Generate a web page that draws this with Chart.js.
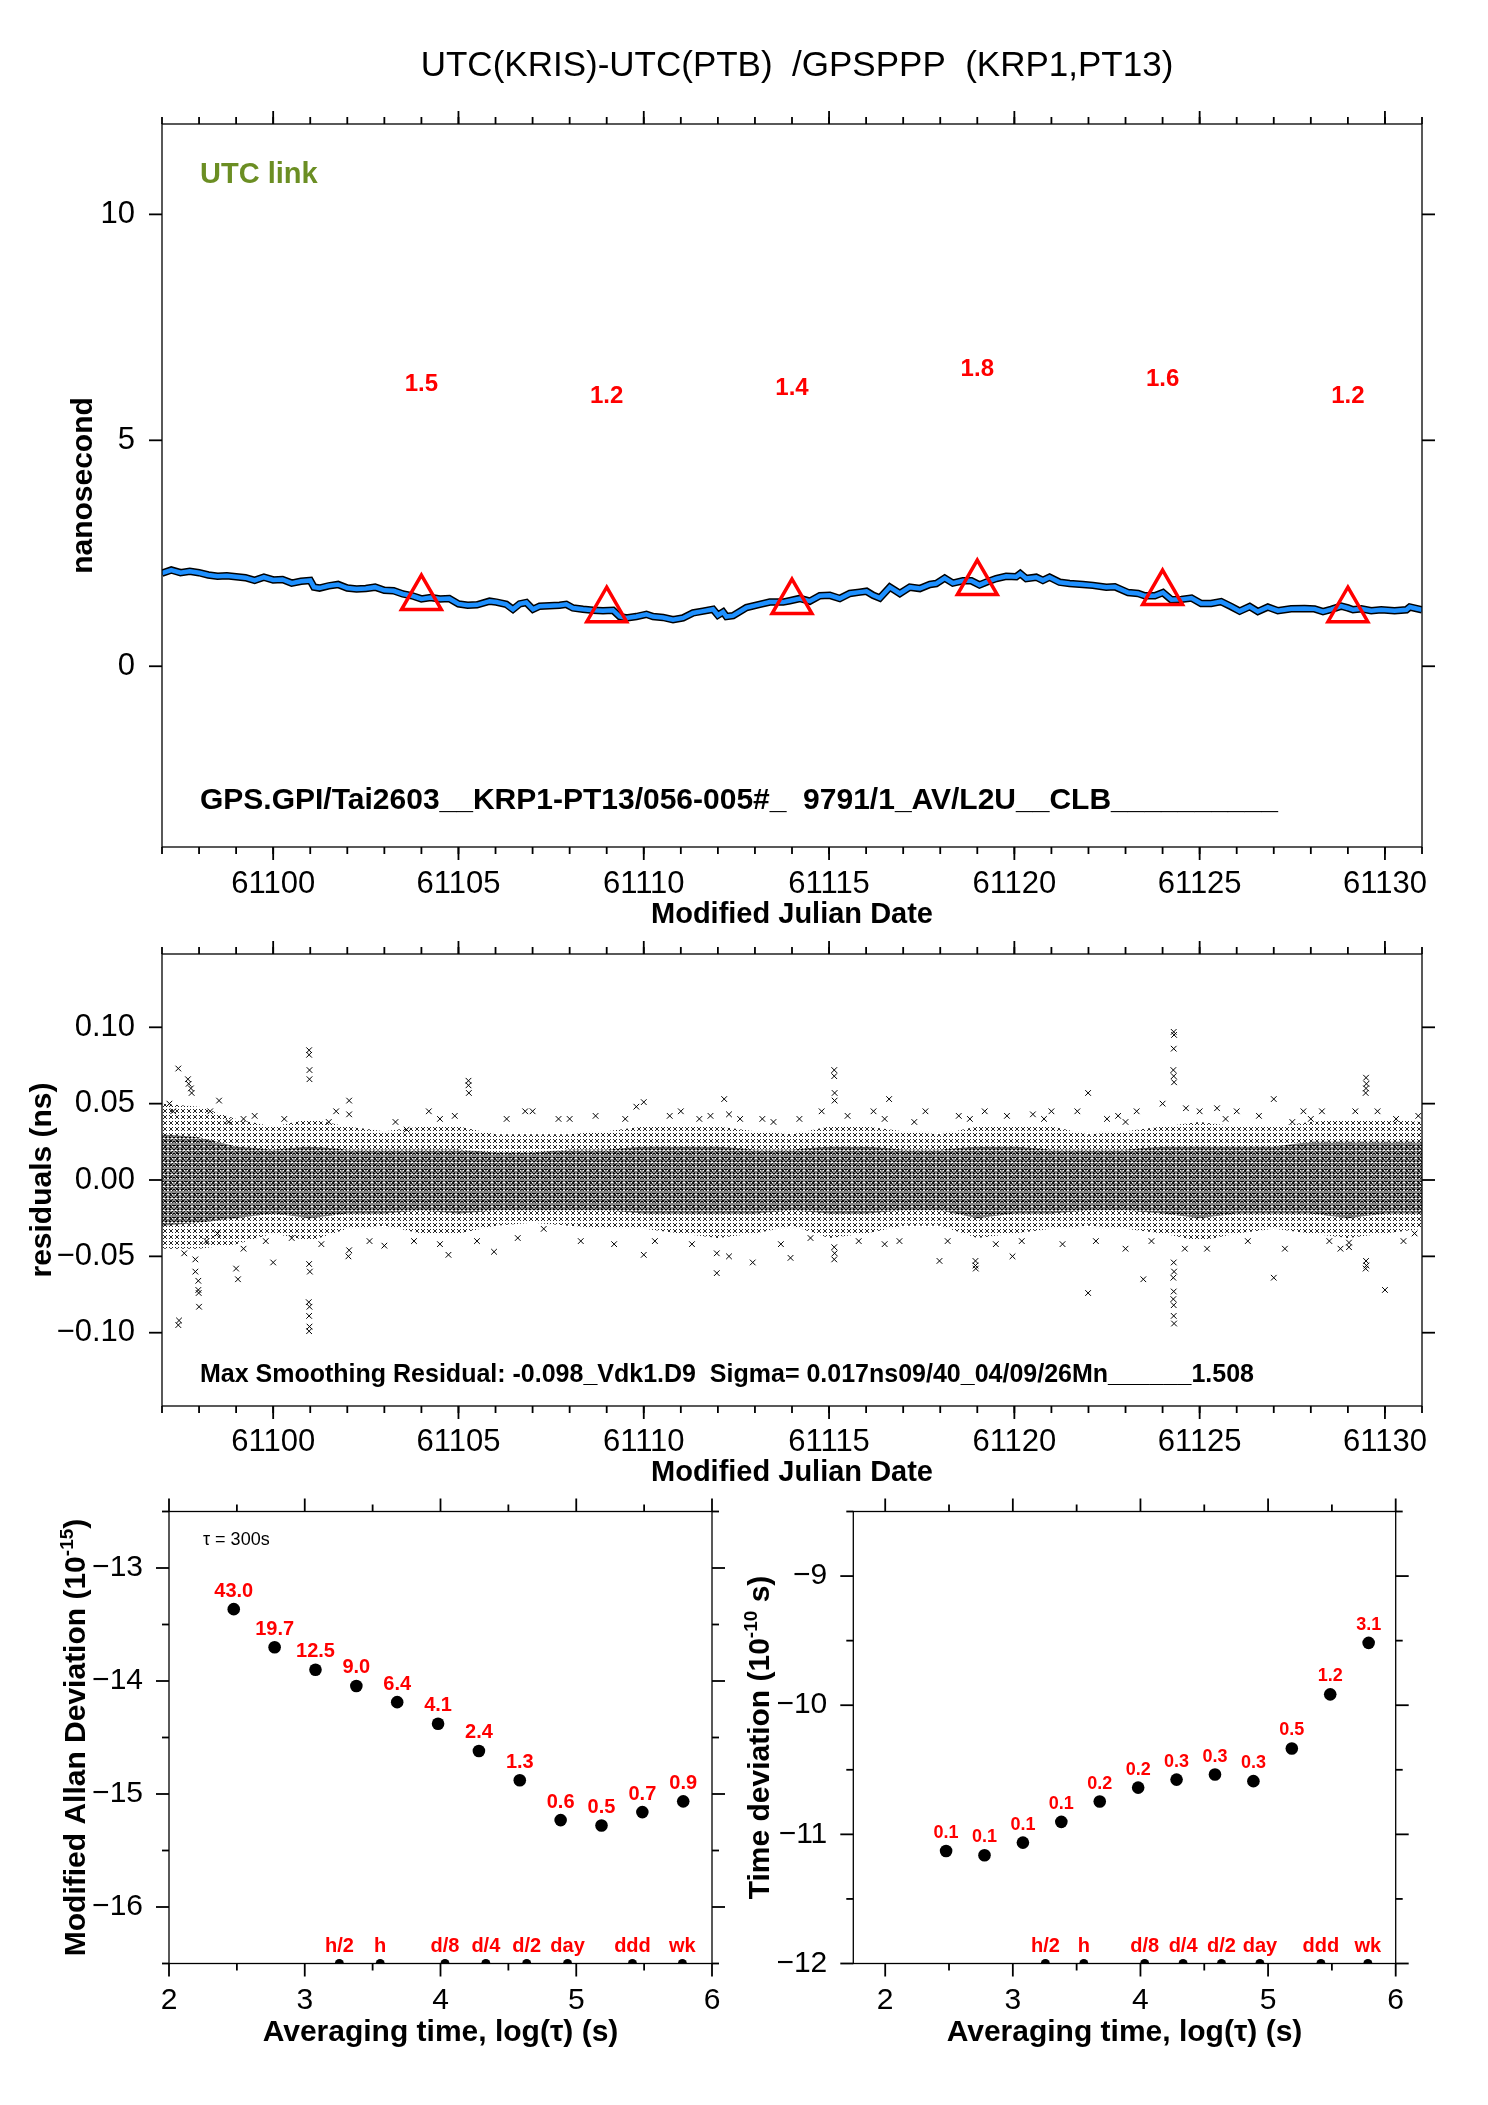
<!DOCTYPE html>
<html>
<head>
<meta charset="utf-8">
<script src="https://cdn.jsdelivr.net/npm/chart.js@4.4.1/dist/chart.umd.min.js"></script>
<style>
  html, body { margin: 0; padding: 0; background: #fff; }
  body { width: 1488px; height: 2105px; position: relative; overflow: hidden; }
  canvas { position: absolute; }
</style>
</head>
<body>
<canvas id="linkChart" width="1488" height="940" style="left:0;top:0;"></canvas>
<canvas id="resChart" width="1488" height="620" style="left:0;top:880px;"></canvas>
<canvas id="mdevChart" width="744" height="665" style="left:0;top:1440px;"></canvas>
<canvas id="tdevChart" width="788" height="665" style="left:700px;top:1440px;"></canvas>
<script>
// ---- data ----
const mjdTicks = [61100, 61105, 61110, 61115, 61120, 61125, 61130];
const nsTicks = [0, 5, 10];
const resTicks = [-0.10, -0.05, 0, 0.05, 0.10];
const logTauTicks = [2, 3, 4, 5, 6];
const mdevTicks = [-16, -15, -14, -13];
const tdevTicks = [-12, -11, -10, -9];

// UTC link (ns), smoothed curve
const linkMjd = [61097.00, 61097.25, 61097.50, 61097.75, 61098.00, 61098.25, 61098.50, 61098.75, 61099.00, 61099.25,
  61099.50, 61099.75, 61100.00, 61100.25, 61100.50, 61100.75, 61101.00, 61101.10, 61101.25, 61101.50,
  61101.75, 61102.00, 61102.25, 61102.50, 61102.75, 61103.00, 61103.25, 61103.50, 61103.75, 61104.00,
  61104.25, 61104.50, 61104.75, 61105.00, 61105.25, 61105.50, 61105.84, 61106.02, 61106.29, 61106.47,
  61106.65, 61106.83, 61107.01, 61107.19, 61107.46, 61107.73, 61107.91, 61108.09, 61108.36, 61108.63,
  61108.90, 61109.17, 61109.35, 61109.53, 61109.80, 61110.07, 61110.25, 61110.52, 61110.79, 61111.06,
  61111.33, 61111.60, 61111.87, 61112.00, 61112.14, 61112.23, 61112.41, 61112.77, 61113.13, 61113.40,
  61113.76, 61113.94, 61114.21, 61114.48, 61114.75, 61115.02, 61115.29, 61115.56, 61115.83, 61116.01,
  61116.19, 61116.37, 61116.64, 61116.91, 61117.18, 61117.45, 61117.72, 61117.89, 61118.12, 61118.34,
  61118.61, 61118.84, 61119.06, 61119.24, 61119.51, 61119.78, 61120.05, 61120.16, 61120.32, 61120.59,
  61120.77, 61120.95, 61121.22, 61121.49, 61121.85, 61122.12, 61122.48, 61122.71, 61123.07, 61123.34,
  61123.52, 61123.79, 61124.01, 61124.24, 61124.51, 61124.78, 61125.04, 61125.31, 61125.58, 61125.85,
  61126.08, 61126.35, 61126.57, 61126.84, 61127.11, 61127.47, 61127.83, 61128.10, 61128.33, 61128.55,
  61128.82, 61129.00, 61129.14, 61129.36, 61129.63, 61129.90, 61130.26, 61130.58, 61130.67, 61131.00];
const linkNs = [2.06, 2.13, 2.07, 2.10, 2.07, 2.02, 1.99, 2.00, 1.98, 1.96,
  1.90, 1.97, 1.91, 1.92, 1.84, 1.88, 1.90, 1.75, 1.73, 1.78,
  1.81, 1.73, 1.71, 1.72, 1.75, 1.68, 1.67, 1.60, 1.56, 1.49,
  1.52, 1.49, 1.50, 1.38, 1.35, 1.36, 1.44, 1.42, 1.37, 1.26,
  1.38, 1.41, 1.26, 1.33, 1.34, 1.35, 1.37, 1.29, 1.26, 1.24,
  1.23, 1.24, 1.10, 1.07, 1.10, 1.15, 1.10, 1.08, 1.03, 1.07,
  1.18, 1.22, 1.26, 1.13, 1.20, 1.10, 1.12, 1.30, 1.37, 1.42,
  1.42, 1.45, 1.50, 1.44, 1.56, 1.57, 1.50, 1.61, 1.64, 1.66,
  1.57, 1.51, 1.75, 1.61, 1.75, 1.72, 1.81, 1.83, 1.95, 1.84,
  1.89, 1.89, 1.80, 1.86, 1.94, 1.99, 1.98, 2.05, 1.94, 1.97,
  1.90, 1.97, 1.86, 1.83, 1.81, 1.79, 1.75, 1.76, 1.63, 1.61,
  1.56, 1.56, 1.63, 1.47, 1.48, 1.51, 1.39, 1.39, 1.43, 1.32,
  1.22, 1.32, 1.21, 1.31, 1.23, 1.27, 1.28, 1.27, 1.21, 1.26,
  1.33, 1.29, 1.25, 1.27, 1.23, 1.25, 1.23, 1.25, 1.31, 1.25];

// red triangles and their labels
const markMjd = [61104, 61109, 61114, 61119, 61124, 61129];
const markNs = [1.51, 1.24, 1.42, 1.84, 1.62, 1.24];
const markLabels = ['1.5', '1.2', '1.4', '1.8', '1.6', '1.2'];

// residuals: dense core / outer scatter envelopes per day
const bandMjd = [61097, 61098, 61099, 61100, 61101, 61102, 61103, 61104, 61105, 61106, 61107, 61108,
  61109, 61110, 61111, 61112, 61113, 61114, 61115, 61116, 61117, 61118, 61119, 61120, 61121, 61122,
  61123, 61124, 61125, 61126, 61127, 61128, 61129, 61130, 61131];
const coreHigh = [0.030, 0.028, 0.022, 0.020, 0.022, 0.020, 0.020, 0.020, 0.020, 0.018, 0.018, 0.020,
  0.020, 0.022, 0.022, 0.022, 0.020, 0.020, 0.022, 0.022, 0.020, 0.020, 0.022, 0.022, 0.020, 0.020,
  0.020, 0.022, 0.022, 0.022, 0.022, 0.025, 0.025, 0.025, 0.025];
const coreLow = [-0.030, -0.028, -0.025, -0.022, -0.025, -0.022, -0.022, -0.020, -0.022, -0.020, -0.020, -0.020,
  -0.020, -0.022, -0.022, -0.022, -0.022, -0.020, -0.022, -0.022, -0.020, -0.020, -0.025, -0.022, -0.022, -0.020,
  -0.020, -0.022, -0.025, -0.022, -0.022, -0.022, -0.025, -0.022, -0.022];
const spreadHigh = [0.050, 0.048, 0.040, 0.035, 0.040, 0.035, 0.032, 0.035, 0.035, 0.030, 0.030, 0.030,
  0.032, 0.035, 0.035, 0.035, 0.032, 0.030, 0.035, 0.035, 0.032, 0.030, 0.035, 0.035, 0.035, 0.030,
  0.032, 0.035, 0.038, 0.035, 0.035, 0.038, 0.040, 0.040, 0.038];
const spreadLow = [-0.045, -0.045, -0.042, -0.035, -0.040, -0.032, -0.030, -0.035, -0.035, -0.030, -0.028, -0.030,
  -0.032, -0.032, -0.035, -0.038, -0.035, -0.030, -0.038, -0.035, -0.030, -0.030, -0.038, -0.035, -0.032, -0.030,
  -0.032, -0.035, -0.040, -0.035, -0.032, -0.035, -0.038, -0.035, -0.032];
// isolated residual points [mjd, ns]
const residualOutliers = [
  [61097.44, -0.095], [61097.46, -0.092], [61097.44, 0.073], [61097.70, 0.066], [61097.72, 0.063],
  [61097.78, 0.060], [61097.80, 0.057], [61098.00, -0.083], [61097.98, -0.066], [61097.98, -0.072],
  [61097.99, -0.074], [61097.90, -0.052], [61097.90, -0.060], [61098.54, 0.052], [61099.05, -0.065],
  [61099.00, -0.058], [61100.00, -0.054], [61098.30, 0.045], [61099.20, 0.040], [61099.20, -0.045],
  [61100.97, 0.085], [61100.97, 0.082], [61100.98, 0.072], [61100.98, 0.066], [61100.97, -0.089],
  [61100.98, -0.096], [61100.97, -0.099], [61100.96, -0.080], [61100.98, -0.083], [61100.97, -0.055],
  [61100.99, -0.060], [61101.50, 0.038], [61102.05, 0.052], [61102.05, 0.043], [61102.03, -0.050],
  [61102.05, -0.046], [61103.00, -0.043], [61103.60, 0.033], [61104.50, 0.040], [61104.50, -0.042],
  [61104.73, -0.049], [61105.27, 0.065], [61105.27, 0.062], [61105.28, 0.057], [61105.96, -0.047],
  [61106.80, 0.045], [61107.30, -0.032], [61108.00, 0.040], [61109.80, 0.048], [61110.00, 0.051],
  [61110.00, -0.049], [61110.70, 0.042], [61111.50, 0.040], [61111.97, -0.061], [61111.97, -0.048],
  [61112.17, 0.053], [61112.30, 0.043], [61112.30, -0.050], [61112.94, -0.054], [61113.20, 0.040],
  [61113.96, -0.051], [61114.50, -0.038], [61115.14, 0.072], [61115.14, 0.068], [61115.15, 0.057],
  [61115.15, 0.052], [61115.14, -0.044], [61115.15, -0.048], [61115.14, -0.052], [61116.50, 0.040],
  [61116.50, -0.042], [61116.62, 0.053], [61117.30, 0.038], [61117.98, -0.053], [61118.50, 0.042],
  [61118.95, -0.053], [61118.95, -0.056], [61118.96, -0.058], [61119.20, 0.045], [61119.95, -0.050],
  [61120.50, 0.043], [61121.00, 0.045], [61121.99, 0.057], [61121.99, -0.074], [61122.50, 0.040],
  [61123.00, 0.038], [61123.00, -0.045], [61123.48, -0.065], [61124.00, 0.050], [61124.30, 0.097],
  [61124.31, 0.095], [61124.30, 0.086], [61124.29, 0.072], [61124.30, 0.068], [61124.31, 0.064],
  [61124.30, -0.089], [61124.31, -0.094], [61124.30, -0.073], [61124.29, -0.078], [61124.30, -0.082],
  [61124.30, -0.054], [61124.31, -0.060], [61124.29, -0.064], [61124.63, 0.047], [61125.20, -0.045],
  [61125.47, 0.047], [61126.00, 0.045], [61127.00, 0.053], [61127.00, -0.064], [61127.50, 0.038],
  [61128.00, 0.040], [61128.50, -0.040], [61129.03, -0.041], [61129.03, -0.044], [61129.49, 0.067],
  [61129.50, 0.063], [61129.49, 0.060], [61129.48, 0.057], [61129.49, -0.053], [61129.50, -0.056],
  [61129.48, -0.058], [61130.00, -0.072], [61130.30, 0.040], [61130.80, -0.035],
  [61097.20, 0.050], [61097.30, 0.045], [61097.60, -0.048], [61098.20, -0.040], [61098.50, -0.035],
  [61098.80, 0.038], [61099.50, 0.042], [61099.80, -0.040], [61100.30, 0.040], [61100.50, -0.038],
  [61101.30, -0.042], [61101.70, 0.045], [61102.60, -0.040], [61103.30, 0.038], [61103.80, -0.040],
  [61104.20, 0.045], [61104.90, 0.042], [61105.50, -0.040], [61106.30, 0.040], [61106.60, -0.038],
  [61107.00, 0.045], [61107.70, 0.040], [61108.30, -0.040], [61108.70, 0.042], [61109.20, -0.042],
  [61109.50, 0.040], [61110.30, -0.040], [61111.00, 0.045], [61111.30, -0.042], [61111.80, 0.042],
  [61112.60, 0.040], [61113.50, 0.038], [61113.70, -0.042], [61114.20, 0.040], [61114.80, 0.045],
  [61115.50, 0.042], [61115.80, -0.040], [61116.20, 0.045], [61116.90, -0.040], [61117.60, 0.045],
  [61118.20, -0.040], [61118.80, 0.040], [61119.50, -0.042], [61119.80, 0.042], [61120.20, -0.040],
  [61120.80, 0.040], [61121.30, -0.042], [61121.70, 0.045], [61122.20, -0.040], [61122.80, 0.042],
  [61123.30, 0.045], [61123.70, -0.040], [61124.60, -0.045], [61125.00, 0.045], [61125.70, 0.040],
  [61126.30, -0.040], [61126.60, 0.042], [61127.30, -0.045], [61127.80, 0.045], [61128.30, 0.045],
  [61128.80, -0.045], [61129.20, 0.045], [61129.80, 0.045], [61130.50, -0.040], [61130.90, 0.042]];

// stability: log10(tau), log10(MDEV), log10(TDEV)
const logTau = [2.477, 2.778, 3.079, 3.380, 3.681, 3.982, 4.283, 4.584, 4.885, 5.186, 5.487, 5.788];
const logMdev = [-13.364, -13.701, -13.901, -14.044, -14.187, -14.378, -14.619, -14.878, -15.231, -15.279, -15.160, -15.065];
const mdevLabels = ['43.0', '19.7', '12.5', '9.0', '6.4', '4.1', '2.4', '1.3', '0.6', '0.5', '0.7', '0.9'];
const logTdev = [-11.129, -11.162, -11.064, -10.903, -10.746, -10.638, -10.576, -10.537, -10.588, -10.335, -9.916, -9.517];
const tdevLabels = ['0.1', '0.1', '0.1', '0.1', '0.2', '0.2', '0.3', '0.3', '0.3', '0.5', '1.2', '3.1'];
const spanNames = ['h/2', 'h', 'd/8', 'd/4', 'd/2', 'day', 'ddd', 'wk'];
const spanLogTau = [3.255, 3.556, 4.033, 4.334, 4.635, 4.936, 5.414, 5.782];

// ---- drawing helpers ----
const FONT = "'Liberation Sans', Arial, Helvetica, sans-serif";
Chart.defaults.font.family = FONT;
Chart.defaults.color = '#000';

const dayTicks = [];
for (let d = 61097; d <= 61131; d++) dayTicks.push(d);

const frameTicks = {
  id: 'frameTicks',
  afterDraw(chart, args, o) {
    const { ctx, chartArea: a } = chart;
    const xs = chart.scales.x, ys = chart.scales.y;
    ctx.save();
    ctx.strokeStyle = '#000';
    ctx.lineWidth = 1.3;
    ctx.strokeRect(a.left, a.top, a.right - a.left, a.bottom - a.top);
    ctx.lineWidth = 1.8;
    const line = (x1, y1, x2, y2) => { ctx.beginPath(); ctx.moveTo(x1, y1); ctx.lineTo(x2, y2); ctx.stroke(); };
    const xt = (vals, len) => vals.forEach(v => {
      const p = xs.getPixelForValue(v);
      line(p, a.top, p, a.top - len);
      line(p, a.bottom, p, a.bottom + len);
    });
    const yt = (vals, len) => vals.forEach(v => {
      const p = ys.getPixelForValue(v);
      line(a.left, p, a.left - len, p);
      line(a.right, p, a.right + len, p);
    });
    xt(o.xMinor || [], 7); xt(o.xMajor || [], 13);
    yt(o.yMinor || [], 7); yt(o.yMajor || [], 13);
    ctx.restore();
  }
};

const annot = {
  id: 'annot',
  afterDatasetsDraw(chart, args, o) {
    const ctx = chart.ctx;
    (o.sets || []).forEach(s => {
      const meta = chart.getDatasetMeta(s.dataset);
      ctx.save();
      ctx.font = s.font; ctx.fillStyle = s.color;
      ctx.textAlign = 'center'; ctx.textBaseline = 'middle';
      meta.data.forEach((pt, i) => ctx.fillText(s.labels[i], pt.x, pt.y - s.dy));
      ctx.restore();
    });
    (o.texts || []).forEach(t => {
      ctx.save();
      ctx.font = t.font; ctx.fillStyle = t.color || '#000';
      ctx.textAlign = t.align || 'left'; ctx.textBaseline = t.baseline || 'alphabetic';
      ctx.fillText(t.text, t.x, t.y);
      ctx.restore();
    });
    if (o.rich) {
      const r = o.rich;
      ctx.save();
      ctx.translate(r.x, r.y);
      ctx.rotate(-Math.PI / 2);
      ctx.fillStyle = '#000';
      ctx.textBaseline = 'alphabetic';
      let total = 0;
      r.parts.forEach(p => { ctx.font = 'bold ' + p.size + 'px ' + FONT; total += ctx.measureText(p.t).width; });
      let x = -total / 2;
      r.parts.forEach(p => {
        ctx.font = 'bold ' + p.size + 'px ' + FONT;
        ctx.fillText(p.t, x, 11 - (p.rise || 0));
        x += ctx.measureText(p.t).width;
      });
      ctx.restore();
    }
  }
};
Chart.register(frameTicks, annot);

function axis(o) {
  return {
    type: 'linear', min: o.min, max: o.max,
    afterBuildTicks: s => { s.ticks = o.ticks.map(v => ({ value: v })); },
    afterFit: s => {
      if (o.width !== undefined) s.width = o.width;
      if (o.height !== undefined) s.height = o.height;
    },
    grid: { display: false, drawTicks: false, tickLength: 0 },
    border: { display: false },
    ticks: { font: { size: o.tickSize }, color: '#000', padding: o.tickPad, maxRotation: 0, autoSkip: false, callback: o.fmt },
    title: o.title
      ? { display: true, text: o.title, color: '#000', font: { size: o.titleSize, weight: 'bold' }, padding: o.titlePad }
      : { display: false }
  };
}

const signed = v => (v < 0 ? '\u2212' : '') + Math.abs(v);
const signed2 = v => (v < 0 ? '\u2212' : '') + Math.abs(v).toFixed(2);

function crossPattern(size, arm, alpha, width) {
  const c = document.createElement('canvas');
  c.width = c.height = size;
  const g = c.getContext('2d');
  g.strokeStyle = 'rgba(0,0,0,' + alpha + ')';
  g.lineWidth = width || 1;
  const m = size / 2;
  g.beginPath();
  g.moveTo(m - arm, m - arm); g.lineTo(m + arm, m + arm);
  g.moveTo(m + arm, m - arm); g.lineTo(m - arm, m + arm);
  g.stroke();
  return g.createPattern(c, 'repeat');
}

const common = {
  responsive: false, animation: false, devicePixelRatio: 1, events: [],
};

// ---- top: UTC link ----
const linkPts = linkMjd.map((x, i) => ({ x, y: linkNs[i] }));
new Chart(document.getElementById('linkChart'), {
  type: 'scatter',
  data: {
    datasets: [
      { data: markMjd.map((x, i) => ({ x, y: markNs[i] })), pointStyle: 'triangle', pointRadius: 23,
        borderColor: '#ff0000', borderWidth: 3.5, backgroundColor: 'rgba(0,0,0,0)' },
      { data: linkPts, showLine: true, borderColor: '#1e90ff', borderWidth: 4.5, pointRadius: 0 },
      { data: linkPts, showLine: true, borderColor: '#000', borderWidth: 7.5, pointRadius: 0 }
    ]
  },
  options: {
    ...common,
    layout: { padding: { top: 124, right: 66, left: 0, bottom: 0 } },
    scales: {
      x: axis({ min: 61097, max: 61131, ticks: mjdTicks, height: 93, tickSize: 31, tickPad: 19, fmt: v => String(v),
        title: 'Modified Julian Date', titleSize: 29, titlePad: { top: 0, bottom: 7.6 } }),
      y: axis({ min: -4, max: 12, ticks: nsTicks, width: 162, tickSize: 31, tickPad: 27, fmt: v => String(v),
        title: 'nanosecond', titleSize: 30, titlePad: { top: 66, bottom: 0 } })
    },
    plugins: {
      legend: { display: false }, tooltip: { enabled: false },
      frameTicks: { xMajor: mjdTicks, xMinor: dayTicks, yMajor: nsTicks },
      annot: {
        sets: [{ dataset: 0, labels: markLabels, dy: 214, font: 'bold 24px ' + FONT, color: '#ff0000' }],
        texts: [
          { text: 'UTC(KRIS)-UTC(PTB)  /GPSPPP  (KRP1,PT13)', x: 797, y: 66, font: '35px ' + FONT, align: 'center', baseline: 'middle' },
          { text: 'UTC link', x: 200, y: 183, font: 'bold 29px ' + FONT, color: '#6b8e23' },
          { text: 'GPS.GPI/Tai2603__KRP1-PT13/056-005#_  9791/1_AV/L2U__CLB__________', x: 200, y: 809, font: 'bold 30px ' + FONT }
        ]
      }
    }
  }
});

// ---- middle: residuals ----
new Chart(document.getElementById('resChart'), {
  type: 'scatter',
  data: {
    datasets: [
      { data: residualOutliers.map(p => ({ x: p[0], y: p[1] })), pointStyle: 'crossRot', pointRadius: 4,
        borderColor: '#000', borderWidth: 1, backgroundColor: '#000' },
      { data: bandMjd.map((x, i) => ({ x, y: coreHigh[i] })), showLine: true, pointRadius: 0,
        borderColor: 'rgba(0,0,0,0)', fill: '+1', backgroundColor: crossPattern(4, 1.5, 1, 1.3) },
      { data: bandMjd.map((x, i) => ({ x, y: coreLow[i] })), showLine: true, pointRadius: 0, borderColor: 'rgba(0,0,0,0)' },
      { data: bandMjd.map((x, i) => ({ x, y: spreadHigh[i] })), showLine: true, pointRadius: 0,
        borderColor: 'rgba(0,0,0,0)', fill: '+1', backgroundColor: crossPattern(6, 2, 0.85) },
      { data: bandMjd.map((x, i) => ({ x, y: spreadLow[i] })), showLine: true, pointRadius: 0, borderColor: 'rgba(0,0,0,0)' }
    ]
  },
  options: {
    ...common,
    layout: { padding: { top: 74, right: 66, left: 0, bottom: 0 } },
    scales: {
      x: axis({ min: 61097, max: 61131, ticks: mjdTicks, height: 94, tickSize: 31, tickPad: 17.4, fmt: v => String(v),
        title: 'Modified Julian Date', titleSize: 29, titlePad: { top: 0, bottom: 9.6 } }),
      y: axis({ min: -0.148, max: 0.148, ticks: resTicks, width: 162, tickSize: 31, tickPad: 27, fmt: signed2,
        title: 'residuals (ns)', titleSize: 30, titlePad: { top: 25, bottom: 0 } })
    },
    plugins: {
      legend: { display: false }, tooltip: { enabled: false },
      frameTicks: { xMajor: mjdTicks, xMinor: dayTicks, yMajor: resTicks },
      annot: {
        texts: [
          { text: 'Max Smoothing Residual: -0.098_Vdk1.D9  Sigma= 0.017ns09/40_04/09/26Mn______1.508', x: 200, y: 502, font: 'bold 25px ' + FONT }
        ]
      }
    }
  }
});

// ---- bottom: stability plots ----
function stability(id, o) {
  new Chart(document.getElementById(id), {
    type: 'scatter',
    data: {
      datasets: [
        { data: logTau.map((x, i) => ({ x, y: o.values[i] })), pointRadius: 6.3, backgroundColor: '#000', borderColor: '#000', borderWidth: 0 },
        { data: spanLogTau.map(x => ({ x, y: o.min })), pointRadius: 4.5, backgroundColor: '#000', borderColor: '#000', borderWidth: 0, clip: 0 }
      ]
    },
    options: {
      ...common,
      layout: { padding: { top: 71.5, right: o.padRight, left: 0, bottom: 0 } },
      scales: {
        x: axis({ min: o.xMin, max: 6, ticks: logTauTicks, height: 141.5, tickSize: 30, tickPad: 19.5, fmt: v => String(v),
          title: 'Averaging time, log(\u03c4) (s)', titleSize: 30, titlePad: { top: 0, bottom: 54 } }),
        y: axis({ min: o.min, max: o.max, ticks: o.ticks, width: o.yWidth, tickSize: 30, tickPad: 26, fmt: signed })
      },
      plugins: {
        legend: { display: false }, tooltip: { enabled: false },
        frameTicks: { xMajor: logTauTicks, xMinor: [2.5, 3.5, 4.5, 5.5], yMajor: o.ticks, yMinor: o.minor },
        annot: {
          sets: [
            { dataset: 0, labels: o.labels, dy: 18, font: 'bold ' + o.labelSize + 'px ' + FONT, color: '#ff0000' },
            { dataset: 1, labels: spanNames, dy: 17.5, font: 'bold 20px ' + FONT, color: '#ff0000' }
          ],
          texts: o.texts || [],
          rich: o.rich
        }
      }
    }
  });
}

stability('mdevChart', {
  values: logMdev, labels: mdevLabels, labelSize: 20,
  xMin: 2, min: -16.5, max: -12.5, ticks: mdevTicks, minor: [-16.5, -15.5, -14.5, -13.5, -12.5],
  yWidth: 169, padRight: 32,
  texts: [{ text: '\u03c4 = 300s', x: 203, y: 100, font: '18px ' + FONT, baseline: 'middle' }],
  rich: { x: 74, y: 297.5, parts: [{ t: 'Modified Allan Deviation (10', size: 30 }, { t: '-15', size: 19, rise: 12 }, { t: ')', size: 30 }] }
});

stability('tdevChart', {
  values: logTdev, labels: tdevLabels, labelSize: 18,
  xMin: 1.75, min: -12, max: -8.5, ticks: tdevTicks, minor: [-11.5, -10.5, -9.5, -8.5],
  yWidth: 153.3, padRight: 92.3,
  rich: { x: 58, y: 297.5, parts: [{ t: 'Time deviation (10', size: 30 }, { t: '-10', size: 19, rise: 12 }, { t: ' s)', size: 30 }] }
});
</script>
</body>
</html>
